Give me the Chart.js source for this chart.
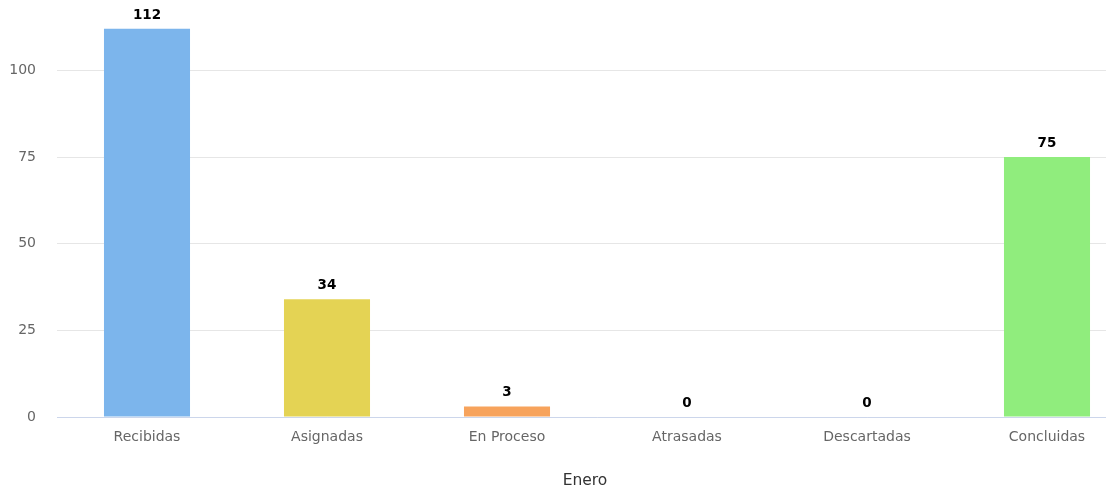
<!DOCTYPE html>
<html>
<head>
<meta charset="utf-8">
<script src="https://cdn.jsdelivr.net/npm/chart.js@4"></script>
<style>
  html, body { margin: 0; padding: 0; background: #fff; overflow: hidden; }
  #wrap { position: relative; width: 1137px; height: 495px; }
  #axisTitle {
    position: absolute; left: 585px; top: 471px; transform: translateX(-50%);
    font-family: "DejaVu Sans", sans-serif; font-size: 15.5px; color: #333;
  }
</style>
</head>
<body>
<div id="wrap">
  <canvas id="chart"></canvas>
  <div id="axisTitle">Enero</div>
</div>
<script>
const categories = ["Recibidas", "Asignadas", "En Proceso", "Atrasadas", "Descartadas", "Concluidas"];
const values = [112, 34, 3, 0, 0, 75];
const barColors = ["#7cb5ec", "#e4d354", "#f7a35c", "#434348", "#8085e9", "#90ed7d"];
const yTicks = [0, 25, 50, 75, 100];

// simple data label plugin, draws value above each bar
const valueLabels = {
  id: "valueLabels",
  afterDatasetsDraw(chart) {
    const ctx = chart.ctx;
    const meta = chart.getDatasetMeta(0);
    ctx.save();
    ctx.font = "bold 13.5px 'DejaVu Sans', sans-serif";
    ctx.fillStyle = "#000";
    ctx.textAlign = "center";
    ctx.textBaseline = "bottom";
    meta.data.forEach((bar, i) => {
      ctx.fillText(String(values[i]), bar.x, bar.y - 7);
    });
    ctx.restore();
  }
};

new Chart(document.getElementById("chart"), {
  type: "bar",
  data: {
    labels: categories,
    datasets: [{
      data: values,
      backgroundColor: barColors,
      categoryPercentage: 1,
      barPercentage: 0.478
    }]
  },
  plugins: [valueLabels],
  options: {
    responsive: true,
    maintainAspectRatio: false,
    animation: false,
    layout: { padding: { top: 8, right: 0, left: 0, bottom: 0 } },
    plugins: { legend: { display: false }, tooltip: { enabled: false } },
    scales: {
      x: {
        grid: { display: false, drawTicks: false },
        border: { color: "#ccd6eb", width: 1 },
        ticks: {
          padding: 12,
          color: "#666",
          font: { family: "DejaVu Sans", size: 14 }
        },
        afterFit(scale) { scale.height = 78; }
      },
      y: {
        min: 0,
        max: 118,
        grid: { color: "#e6e6e6", drawTicks: false },
        border: { display: false },
        afterBuildTicks(scale) {
          scale.ticks = yTicks.map(v => ({ value: v }));
        },
        ticks: {
          padding: 21,
          color: "#666",
          font: { family: "DejaVu Sans", size: 14 }
        },
        afterFit(scale) {
          scale.width = 57;
          scale.paddingTop = 0;
          scale.paddingBottom = 0;
        }
      }
    }
  }
});
</script>
</body>
</html>
